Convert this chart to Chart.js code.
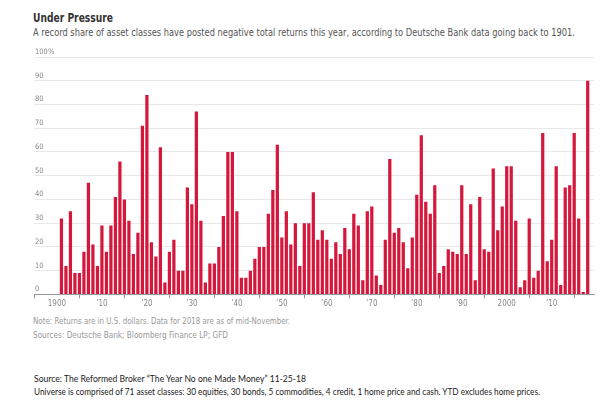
<!DOCTYPE html>
<html>
<head>
<meta charset="utf-8">
<script src="https://cdn.jsdelivr.net/npm/chart.js"></script>
<style>
  body { margin: 0; width: 609px; height: 401px; background: #fff; position: relative; overflow: hidden;
         font-family: "Liberation Sans Narrow", "DejaVu Sans Condensed", "DejaVu Sans", sans-serif; }
  .t { position: absolute; white-space: nowrap; line-height: 1; transform-origin: 0 50%; }
  #title { left: 33px; top: 11px; font-size: 13px; font-weight: bold; color: #333; }
  #sub { left: 33px; top: 28px; font-size: 10px; color: #555; }
  #note { left: 33px; top: 318px; font-size: 8px; color: #999; }
  #src1 { left: 33px; top: 332px; font-size: 8px; color: #999; }
  #src2 { left: 34px; top: 374px; font-size: 9px; color: #222; font-family: Lato, "Open Sans", sans-serif; }
  #univ { left: 34px; top: 387px; font-size: 9px; color: #222; font-family: Lato, "Open Sans", sans-serif; }
  #chartBox { position: absolute; left: 0; top: 44px; width: 609px; height: 270px; }
</style>
</head>
<body>
<div class="t" id="title" data-w="80">Under Pressure</div>
<div class="t" id="sub" data-w="542">A record share of asset classes have posted negative total returns this year, according to Deutsche Bank data going back to 1901.</div>
<div class="t" id="note" data-w="257">Note: Returns are in U.S. dollars. Data for 2018 are as of mid-November.</div>
<div class="t" id="src1" data-w="195">Sources: Deutsche Bank; Bloomberg Finance LP; GFD</div>
<div class="t" id="src2" data-w="272">Source: The Reformed Broker “The Year No one Made Money” 11-25-18</div>
<div class="t" id="univ" data-w="506">Universe is comprised of 71 asset classes: 30 equities, 30 bonds, 5 commodities, 4 credit, 1 home price and cash. YTD excludes home prices.</div>
<div id="chartBox"><canvas id="shareChart" width="609" height="270"></canvas></div>
<script>
// share of asset classes with negative returns, 1901-2018 (%)
const firstYear = 1901;
const shares = [
  32, 12, 35, 9, 9, 18, 47, 21, 12, 29,
  18, 29, 41, 56, 40, 31, 17, 26, 71, 84,
  22, 16, 62, 5, 18, 23, 10, 10, 45, 38,
  77, 31, 5, 13, 13, 20, 33, 60, 60, 35,
  7, 7, 10, 15, 20, 20, 34, 44, 63, 24,
  35, 21, 30, 12, 30, 30, 43, 23, 27, 23,
  15, 22, 17, 28, 19, 34, 29, 6, 35, 37,
  8, 4, 23, 57, 26, 28, 22, 11, 24, 42,
  67, 39, 34, 46, 9, 12, 19, 18, 17, 46,
  17, 38, 6, 41, 19, 18, 53, 27, 37, 54,
  54, 31, 3, 6, 32, 7, 10, 68, 14, 23,
  54, 4, 45, 46, 68, 32, 1, 90
];
const tickYears = [1900, 1910, 1920, 1930, 1940, 1950, 1960, 1970, 1980, 1990, 2000, 2010];
const yTicks = [0, 10, 20, 30, 40, 50, 60, 70, 80, 90, 100];

const points = shares.map(function (v, i) { return { x: firstYear + i, y: v }; });

function yearLabel(v) {
    if (v === 1900 || v === 2000) return String(v);
    return '\u2019' + String(v).slice(2);
}

const ctx = document.getElementById('shareChart').getContext('2d');
const shareChart = new Chart(ctx, {
    type: 'bar',
    data: {
        datasets: [{
            data: points,
            backgroundColor: '#d6173c',
            barPercentage: 0.72,
            categoryPercentage: 1
        }]
    },
    options: {
        responsive: false,
        animation: false,
        layout: { padding: { left: 32, right: 15, top: 13, bottom: 4 } },
        plugins: { legend: { display: false }, tooltip: { enabled: false } },
        scales: {
            x: {
                type: 'linear',
                min: 1894.9,
                max: 2019.4,
                offset: false,
                afterBuildTicks: function (scale) {
                    scale.ticks = tickYears.map(function (v) { return { value: v }; });
                },
                grid: { drawOnChartArea: false, drawTicks: true, tickLength: 4, color: '#999' },
                border: { display: true, color: '#999' },
                ticks: {
                    autoSkip: false, maxRotation: 0, padding: 1,
                    color: '#888', font: { family: 'Liberation Sans Narrow, DejaVu Sans Condensed, sans-serif', size: 8 },
                    callback: yearLabel
                }
            },
            y: {
                min: 0,
                max: 100,
                afterBuildTicks: function (scale) {
                    scale.ticks = yTicks.map(function (v) { return { value: v }; });
                },
                grid: {
                    drawTicks: false,
                    color: function (c) { return c.tick && c.tick.value === 0 ? '#999' : '#e8e8e8'; }
                },
                border: { display: false },
                ticks: {
                    mirror: true, padding: 1, labelOffset: -5,
                    color: '#888', font: { family: 'Liberation Sans Narrow, DejaVu Sans Condensed, sans-serif', size: 7.5 },
                    callback: function (v) { return v === 100 ? '100%' : v; }
                }
            }
        }
    }
});

// squeeze the html text lines to the widths they have in the source picture
function fitTexts() {
    document.querySelectorAll('.t').forEach(function (el) {
        var target = parseFloat(el.getAttribute('data-w'));
        var w = el.getBoundingClientRect().width;
        if (w > 0) el.style.transform = 'scaleX(' + (target / w) + ')';
    });
}
fitTexts();
</script>
</body>
</html>
